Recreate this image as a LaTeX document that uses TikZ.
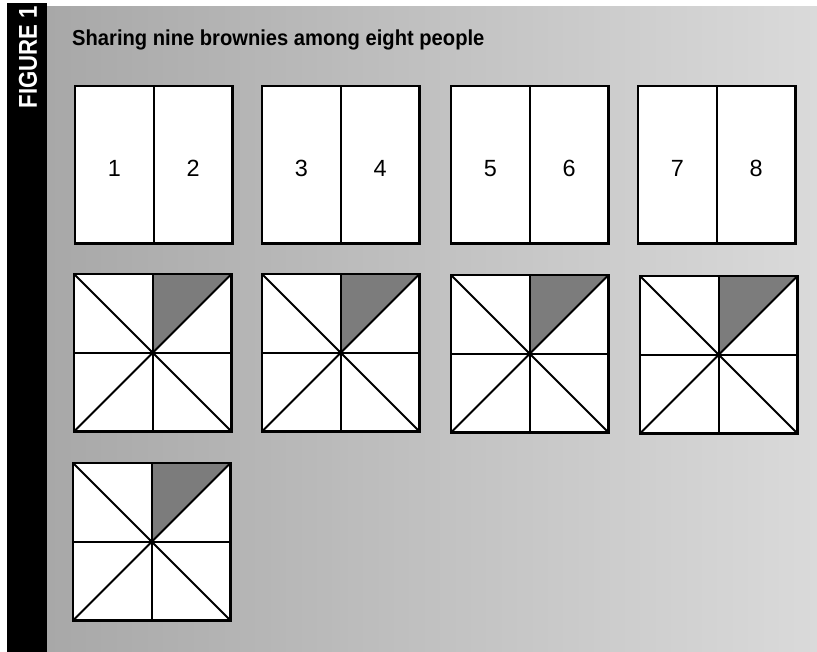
\documentclass[tikz,border=0pt]{standalone}
\usepackage{fontspec}
\setmainfont{Liberation Sans}
\usetikzlibrary{positioning}
\definecolor{pdark}{HTML}{A8A8A8}
\definecolor{plight}{HTML}{DADADA}
\definecolor{pshade}{HTML}{7C7C7C}
\tikzset{
  brownie/.style={fill=white,minimum width=4.71cm,minimum height=4.71cm,inner sep=0pt,anchor=north west},
  frame/.style={draw=black,line width=2.2pt,line join=miter},
  cut/.style={line width=1.6pt},
  num/.style={font=\fontsize{20}{24}\selectfont,inner sep=0pt},
}

\begin{document}
\begin{tikzpicture}[x=0.03cm,y=-0.03cm]
\useasboundingbox (0,0) rectangle (817,652);
% paper and side bar
\fill[left color=pdark,right color=plight] (47,7) rectangle (817,652);
\fill[black] (7,3) rectangle (47,652);
\node[rotate=90,xscale=0.86,text=white,font=\bfseries\fontsize{22}{26}\selectfont] (tag) at (28,57) {FIGURE 1};
\node[font=\bfseries\fontsize{18.5}{22}\selectfont,xscale=0.93,anchor=base west,inner sep=0pt] (title) at (72,46) {Sharing nine brownies among eight people};
% halved brownies
\foreach \x/\a/\b [count=\k] in {75/1/2,262/3/4,451/5/6,638/7/8}{
  \node[brownie] (h\k) at (\x,86) {};
  \draw[cut] (h\k.north) -- (h\k.south);
  \draw[frame] (h\k.north west) rectangle (h\k.south east);
  \node[num] (l\k) at ([xshift=-1.18cm,yshift=-0.1cm]h\k.center) {\a};
  \node[num] (r\k) at ([xshift=1.18cm,yshift=-0.1cm]h\k.center) {\b};}
% brownies cut in eighths
\foreach \x/\y [count=\k] in {74/274,262/274,451/275,640/276,73/463}{
  \node[brownie] (e\k) at (\x,\y) {};
  \fill[pshade] (e\k.north) -- (e\k.north east) -- (e\k.center) -- cycle;
  \draw[cut] (e\k.north) -- (e\k.south);
  \draw[cut] (e\k.west) -- (e\k.east);
  \draw[cut] (e\k.north west) -- (e\k.south east);
  \draw[cut] (e\k.north east) -- (e\k.south west);
  \fill (e\k.center) circle (2.8);
  \draw[frame] (e\k.north west) rectangle (e\k.south east);}
\end{tikzpicture}
\end{document}
